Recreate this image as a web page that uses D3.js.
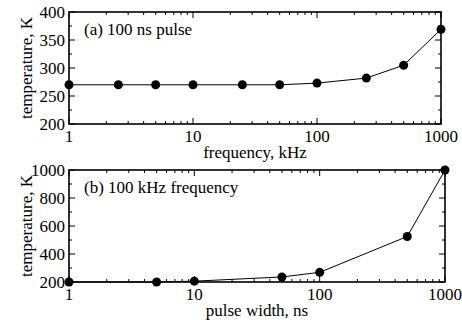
<!DOCTYPE html>
<html><head><meta charset="utf-8">
<script src="https://cdn.jsdelivr.net/npm/d3@7/dist/d3.min.js"></script>
<style>body{margin:0;background:#fff}svg{display:block}text{font-family:"Liberation Serif","Times New Roman",serif;fill:#000}</style>
</head><body>
<script>
const freq = [1, 2.5, 5, 10, 25, 50, 100, 250, 500, 1000];
const tempA = [270, 270, 270, 270, 270, 270, 273, 282, 305, 369];
const width = [1, 5, 10, 50, 100, 500, 1000];
const tempB = [200, 200, 206, 236, 269, 525, 1000];
const xTicks = [1, 10, 100, 1000];
const yTicksA = [200, 250, 300, 350, 400];
const yTicksB = [200, 400, 600, 800, 1000];

const svg = d3.select("body").append("svg").attr("width", 462).attr("height", 320);

function panel(cfg) {
  const x = d3.scaleLog().domain([1, 1000]).range([cfg.l, cfg.r]);
  const y = d3.scaleLinear().domain(cfg.ydom).range([cfg.b, cfg.t]);
  const g = svg.append("g");
  const minorX = [];
  for (let d = 1; d < 1000; d *= 10) for (let k = 2; k <= 9; k++) minorX.push(d * k);
  const minorY = d3.range(cfg.ydom[0] + cfg.minorStep, cfg.ydom[1], cfg.minorStep).filter(v => !cfg.yticks.includes(v));
  const tick = (x1, y1, x2, y2) => g.append("line").attr("x1", x1).attr("y1", y1).attr("x2", x2).attr("y2", y2).attr("stroke", "#000").attr("stroke-width", 1);
  const M = 6, m = 3;
  cfg.xticks.forEach(v => { tick(x(v), cfg.b, x(v), cfg.b - M); tick(x(v), cfg.t, x(v), cfg.t + M); });
  minorX.forEach(v => { tick(x(v), cfg.b, x(v), cfg.b - m); tick(x(v), cfg.t, x(v), cfg.t + m); });
  cfg.yticks.forEach(v => { tick(cfg.l, y(v), cfg.l + M, y(v)); tick(cfg.r, y(v), cfg.r - M, y(v)); });
  minorY.forEach(v => { tick(cfg.l, y(v), cfg.l + m, y(v)); tick(cfg.r, y(v), cfg.r - m, y(v)); });
  g.append("rect").attr("x", cfg.l).attr("y", cfg.t).attr("width", cfg.r - cfg.l).attr("height", cfg.b - cfg.t)
    .attr("fill", "none").attr("stroke", "#000").attr("stroke-width", 1.6);
  cfg.xticks.forEach(v => g.append("text").attr("x", x(v)).attr("y", cfg.b + 18).attr("text-anchor", "middle").attr("font-size", 17).text(v));
  cfg.yticks.forEach(v => g.append("text").attr("x", cfg.l - 4).attr("y", y(v) + 6).attr("text-anchor", "end").attr("font-size", 17).text(v));
  g.append("text").attr("x", (cfg.l + cfg.r) / 2).attr("y", cfg.b + 34).attr("text-anchor", "middle").attr("font-size", 17).text(cfg.xlabel);
  g.append("text").attr("transform", `translate(32,${(cfg.t + cfg.b) / 2}) rotate(-90)`).attr("text-anchor", "middle").attr("font-size", 17).text("temperature, K");
  g.append("text").attr("x", cfg.l + 15).attr("y", cfg.t + 23).attr("font-size", 17).text(cfg.label);
  const line = d3.line().x(d => x(d[0])).y(d => y(d[1]));
  const pts = cfg.xs.map((v, i) => [v, cfg.ys[i]]);
  g.append("path").attr("d", line(pts)).attr("fill", "none").attr("stroke", "#000").attr("stroke-width", 1);
  g.selectAll("circle.p").data(pts).enter().append("circle").attr("cx", d => x(d[0])).attr("cy", d => y(d[1])).attr("r", 4.5).attr("fill", "#000");
}

panel({l: 69, r: 441, t: 12, b: 124, ydom: [200, 400], yticks: yTicksA, minorStep: 25, xticks: xTicks,
  xs: freq, ys: tempA, xlabel: "frequency, kHz", label: "(a) 100 ns pulse"});
panel({l: 69, r: 445, t: 170, b: 282, ydom: [200, 1000], yticks: yTicksB, minorStep: 100, xticks: xTicks,
  xs: width, ys: tempB, xlabel: "pulse width, ns", label: "(b) 100 kHz frequency"});
</script>
</body></html>
